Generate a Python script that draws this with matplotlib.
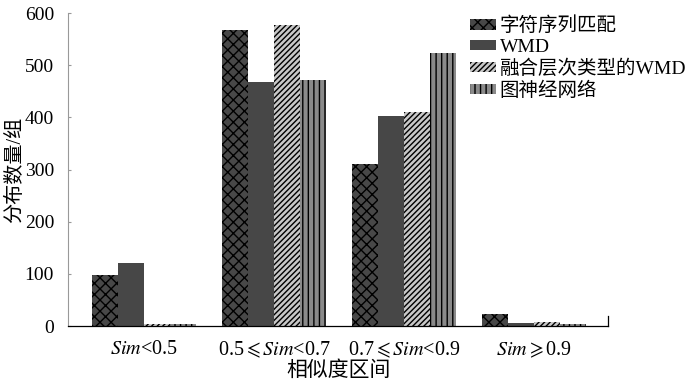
import numpy as np
import matplotlib
matplotlib.use('Agg')
import matplotlib.pyplot as plt

plt.rcParams['font.family'] = ['Liberation Serif', 'Noto Sans CJK SC', 'DejaVu Sans']
plt.rcParams['mathtext.fontset'] = 'stix'
plt.rcParams['hatch.linewidth'] = 1.0

# data
categories = [r'$\mathit{Sim}$<0.5', r'0.5$\leqslant\mathit{Sim}$<0.7',
              r'0.7$\leqslant\mathit{Sim}$<0.9', r'$\mathit{Sim}\geqslant$0.9']
series_names = ['字符序列匹配', 'WMD', '融合层次类型的WMD', '图神经网络']
char_match = [98, 568, 310, 23]
wmd = [120, 467, 403, 5]
wmd_hier = [3, 578, 411, 7]
gnn = [3, 472, 524, 3]
yticks = [0, 100, 200, 300, 400, 500, 600]

series = [char_match, wmd, wmd_hier, gnn]
fills = ['#484848', '#474747', '#c8c8c8', '#8a8a8a']
hatches = ['xxx', '', '//////', '|||']

fig = plt.figure(figsize=(7, 3.84), dpi=100)
ax = fig.add_axes([0.097, 0.151, 0.772, 0.815])

x = np.arange(len(categories))
w = 0.2
for i, vals in enumerate(series):
    ax.bar(x + (i - 1.5) * w, vals, w, color=fills[i], edgecolor='black',
           linewidth=0, hatch=hatches[i], label=series_names[i])

ax.set_xlim(-0.585, 3.57)
ax.set_ylim(0, 600)
ax.set_yticks(yticks)
ax.set_xticks(x)
ax.set_xticklabels(categories, fontsize=14.5)
ax.tick_params(axis='y', direction='in', length=2, width=0.8, color='#999999',
               labelsize=14, pad=10)
ax.tick_params(axis='x', length=0, pad=10)

ax.spines['top'].set_visible(False)
ax.spines['left'].set_color('#999999')
ax.spines['left'].set_linewidth(0.8)
ax.spines['bottom'].set_linewidth(0.9)
ax.spines['right'].set_bounds(0, 20)
ax.spines['right'].set_linewidth(0.9)

ax.set_xlabel('相似度区间', fontsize=15)
ax.set_ylabel('分布数量/组', fontsize=14.5)
ax.xaxis.set_label_coords(0.5, -0.112)
ax.yaxis.set_label_coords(-0.080, 0.50)

leg = ax.legend(loc='upper left', bbox_to_anchor=(0.658, 0.982), bbox_transform=fig.transFigure,
                frameon=False, fontsize=14, handlelength=1.3, handleheight=0.45,
                handletextpad=0.2, labelspacing=0.18, borderpad=0)

fig.savefig('out.png', dpi=100)
